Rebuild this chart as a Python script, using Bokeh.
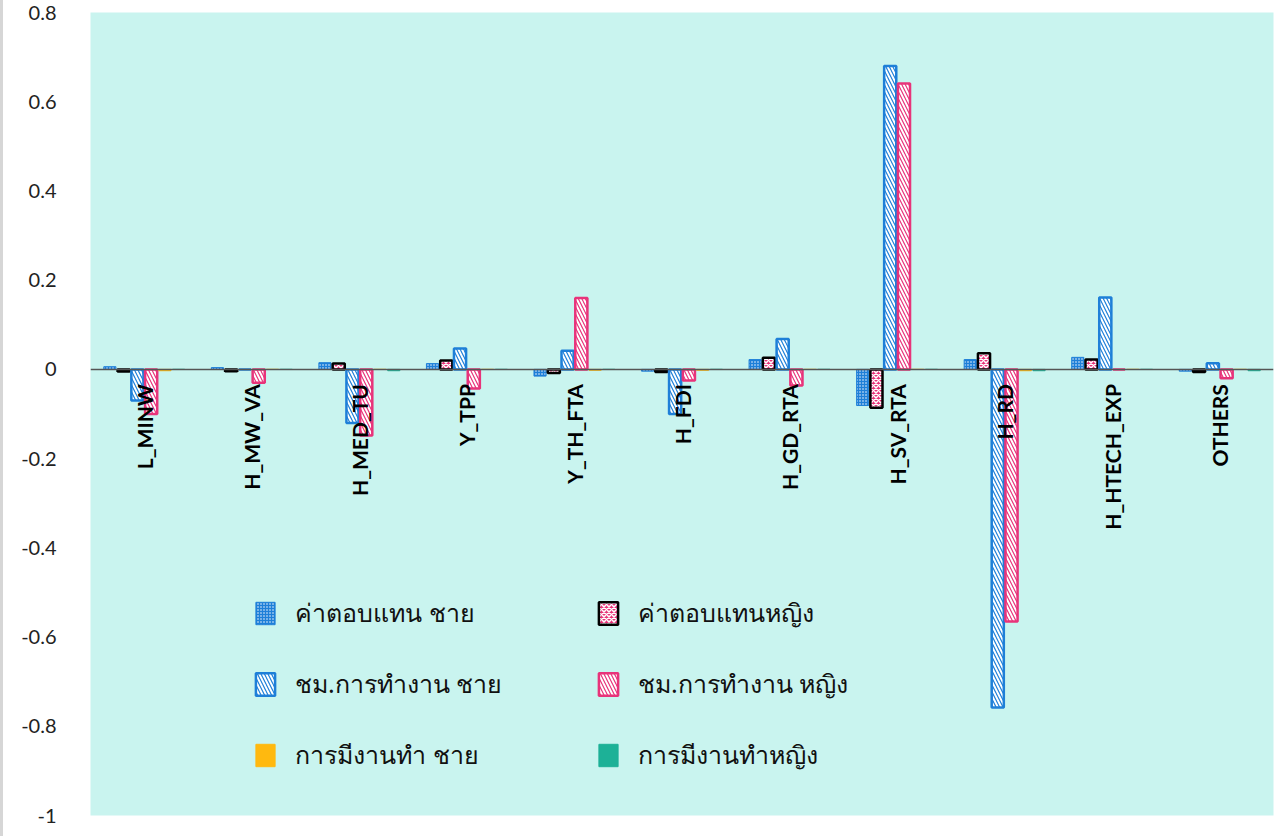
import numpy as np
from bokeh.plotting import figure
from bokeh.models import Range1d, FixedTicker, Span, ColumnDataSource, Legend, LegendItem
from bokeh.core.properties import value
from bokeh.embed import file_html
from bokeh.resources import INLINE

categories = ["L_MINW", "H_MW_VA", "H_MED_TU", "Y_TPP", "Y_TH_FTA",
              "H_FDI", "H_GD_RTA", "H_SV_RTA", "H_RD", "H_HTECH_EXP", "OTHERS"]

series_names = ["ค่าตอบแทน ชาย", "ค่าตอบแทนหญิง", "ชม.การทำงาน ชาย",
                "ชม.การทำงาน หญิง", "การมีงานทำ ชาย", "การมีงานทำหญิง"]

pay_male = [0.006, 0.004, 0.015, 0.013, -0.015, -0.004, 0.022, -0.081, 0.022, 0.027, -0.004]
pay_female = [-0.005, -0.004, 0.013, 0.020, -0.008, -0.006, 0.026, -0.086, 0.036, 0.022, -0.006]
hours_male = [-0.070, 0.000, -0.120, 0.047, 0.042, -0.100, 0.068, 0.680, -0.758, 0.161, 0.014]
hours_female = [-0.100, -0.030, -0.148, -0.043, 0.160, -0.025, -0.036, 0.641, -0.565, 0.000, -0.020]
emp_male = [-0.003, 0.000, 0.000, 0.000, -0.002, -0.002, 0.000, 0.000, -0.003, 0.000, 0.000]
emp_female = [0.000, 0.000, -0.003, 0.000, 0.000, 0.000, 0.000, 0.000, -0.003, 0.000, -0.003]

y_ticks = [-1, -0.8, -0.6, -0.4, -0.2, 0, 0.2, 0.4, 0.6, 0.8]
y_tick_labels = ["-1", "-0.8", "-0.6", "-0.4", "-0.2", "0", "0.2", "0.4", "0.6", "0.8"]

series_values = [pay_male, pay_female, hours_male, hours_female, emp_male, emp_female]

BLUE = "#1E7FD8"
PINK = "#E8337A"
ORANGE = "#FFB90F"
TEAL = "#1DB197"
BG = "#C9F4EF"

styles = [
    dict(fill_color=BLUE, line_color=BLUE, line_width=1, hatch_pattern="dot",
         hatch_color="white", hatch_scale=3, hatch_weight=1),
    dict(fill_color=PINK, line_color="black", line_width=2.5, hatch_pattern="diagonal_cross",
         hatch_color="white", hatch_scale=5, hatch_weight=1.5),
    dict(fill_color="white", line_color=BLUE, line_width=2.5, hatch_pattern="left_diagonal_line",
         hatch_color=BLUE, hatch_scale=7, hatch_weight=1.2),
    dict(fill_color="white", line_color=PINK, line_width=2.5, hatch_pattern="left_diagonal_line",
         hatch_color=PINK, hatch_scale=7, hatch_weight=1.2),
    dict(fill_color=ORANGE, line_color=ORANGE, line_width=1),
    dict(fill_color=TEAL, line_color=TEAL, line_width=1),
]

p = figure(width=1274, height=836, output_backend="svg", toolbar_location=None,
           x_range=Range1d(-0.5, 10.5), y_range=Range1d(-1, 0.8),
           min_border_left=87, min_border_right=4, min_border_top=12, min_border_bottom=21)
p.background_fill_color = BG
p.border_fill_color = "white"
p.outline_line_color = None
p.xgrid.visible = False
p.ygrid.visible = False
p.xaxis.visible = False

yax = p.yaxis[0]
yax.ticker = FixedTicker(ticks=y_ticks)
yax.major_label_overrides = {t: s for t, s in zip(y_ticks, y_tick_labels)}
yax.axis_line_color = None
yax.major_tick_line_color = None
yax.minor_tick_line_color = None
yax.major_label_text_font = "Lato"
yax.major_label_text_font_size = "20px"
yax.major_label_text_color = "#222222"
yax.major_label_standoff = 28

bar_w = 0.128
x_idx = np.arange(len(categories))
renderers = []
for k, (vals, st) in enumerate(zip(series_values, styles)):
    src = ColumnDataSource(dict(x=x_idx + (k - 2.5) * bar_w, top=vals))
    r = p.vbar(x="x", top="top", bottom=0, width=bar_w * 0.88, source=src, **st)
    renderers.append(r)

p.add_layout(Span(location=0, dimension="width", line_color="#555555", line_width=1.5))

lab_src = ColumnDataSource(dict(x=x_idx, y=[-0.033] * len(categories), t=categories))
p.text(x="x", y="y", text="t", source=lab_src, angle=np.pi / 2, text_align="right",
       text_baseline="middle", text_font=value("Lato"), text_font_style="bold",
       text_font_size="21px", text_color="black")

# two columns, filled row by row
order = [0, 2, 4, 1, 3, 5]
items = [LegendItem(label=series_names[i], renderers=[renderers[i]]) for i in order]
legend = Legend(items=items, ncols=2, location=(163, 40))
legend.background_fill_alpha = 0
legend.border_line_color = None
legend.label_text_font = "Noto Sans"
legend.label_text_font_size = "25px"
legend.label_text_color = "#111111"
legend.glyph_width = 24
legend.glyph_height = 28
legend.label_width = 270
legend.label_height = 30
legend.spacing = 31
legend.label_standoff = 18
legend.padding = 5
p.add_layout(legend, "center")

p.styles = {"border-left": "3px solid #d6d6d6"}

open("out.html", "w").write(file_html(p, INLINE))
